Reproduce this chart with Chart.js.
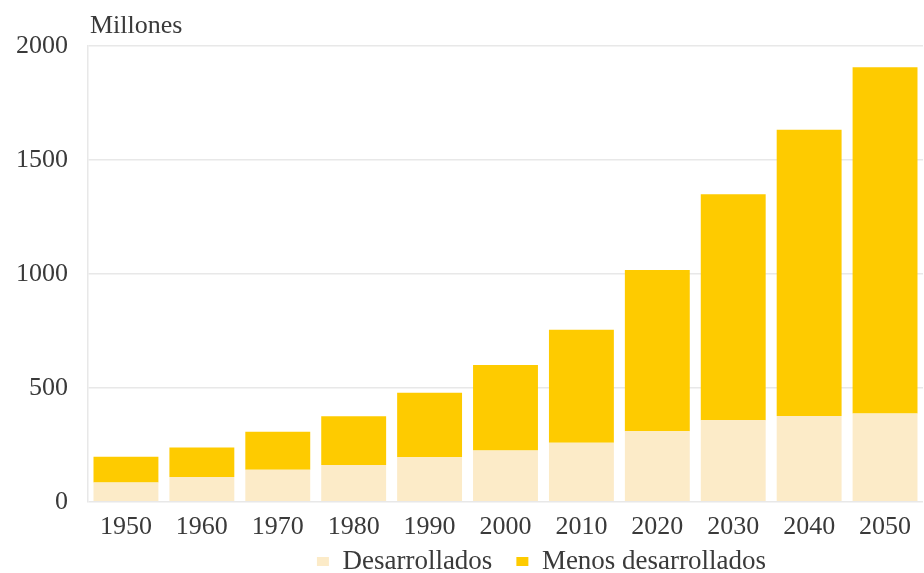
<!DOCTYPE html>
<html>
<head>
<meta charset="utf-8">
<script src="https://cdn.jsdelivr.net/npm/chart.js@4/dist/chart.umd.min.js"></script>
<style>
  html, body { margin: 0; padding: 0; background: #ffffff; }
  #wrap { width: 924px; height: 573px; }
</style>
</head>
<body>
<div id="wrap"><canvas id="c" width="924" height="573"></canvas></div>
<script>
// Población en millones por década
const years = ['1950', '1960', '1970', '1980', '1990', '2000', '2010', '2020', '2030', '2040', '2050'];
const desarrollados = [85, 109, 141, 161, 196, 225, 259, 310, 358, 377, 387];
const menosDesarrollados = [113, 129, 166, 214, 282, 375, 496, 707, 992, 1255, 1520];
const yTicks = [0, 500, 1000, 1500, 2000];
const unitLabel = 'Millones';

const FONT = "'Liberation Serif', 'Times New Roman', serif";
const TEXT = '#3a3a3a';

// Unit caption above the top-left corner of the plot
const unitCaption = {
  id: 'unitCaption',
  afterDraw(chart) {
    const ctx = chart.ctx;
    ctx.save();
    ctx.font = '26px ' + FONT;
    ctx.fillStyle = TEXT;
    ctx.textAlign = 'left';
    ctx.textBaseline = 'alphabetic';
    ctx.fillText(unitLabel, chart.chartArea.left + 2, chart.chartArea.top - 13);
    ctx.restore();
  }
};

// Move the legend row right and tuck it up under the year labels
const legendShift = {
  id: 'legendShift',
  afterLayout(chart) {
    const lg = chart.legend;
    if (lg) {
      lg.left += 82; lg.right += 82;
      lg.top -= 29; lg.bottom -= 29;
    }
  }
};

new Chart(document.getElementById('c'), {
  type: 'bar',
  data: {
    labels: years,
    datasets: [
      { label: 'Desarrollados', data: desarrollados, backgroundColor: '#fcebc8', borderWidth: 0 },
      { label: 'Menos desarrollados', data: menosDesarrollados, backgroundColor: '#fecb00', borderWidth: 0 }
    ]
  },
  options: {
    responsive: false,
    animation: false,
    devicePixelRatio: 1,
    layout: { padding: { top: 46, right: 1, left: -4, bottom: -41 } },
    datasets: { bar: { categoryPercentage: 1, barPercentage: 0.855 } },
    scales: {
      x: {
        stacked: true,
        grid: { display: false, drawTicks: false },
        border: { display: false },
        ticks: { color: TEXT, font: { family: FONT, size: 26 }, padding: 10, maxRotation: 0 }
      },
      y: {
        stacked: true,
        min: 0,
        max: 2000,
        afterBuildTicks(axis) { axis.ticks = yTicks.map(v => ({ value: v })); },
        grid: { color: '#e8e8e8', lineWidth: 1.5, drawTicks: false },
        border: { display: true, color: '#e8e8e8', width: 1.5 },
        ticks: {
          color: TEXT,
          font: { family: FONT, size: 26 },
          padding: 20,
          callback: (v) => String(v)
        }
      }
    },
    plugins: {
      legend: {
        position: 'bottom',
        labels: {
          color: TEXT,
          font: { family: FONT, size: 27 },
          boxWidth: 12,
          boxHeight: 9,
          padding: 24
        }
      },
      tooltip: { enabled: false }
    }
  },
  plugins: [unitCaption, legendShift]
});
</script>
</body>
</html>
